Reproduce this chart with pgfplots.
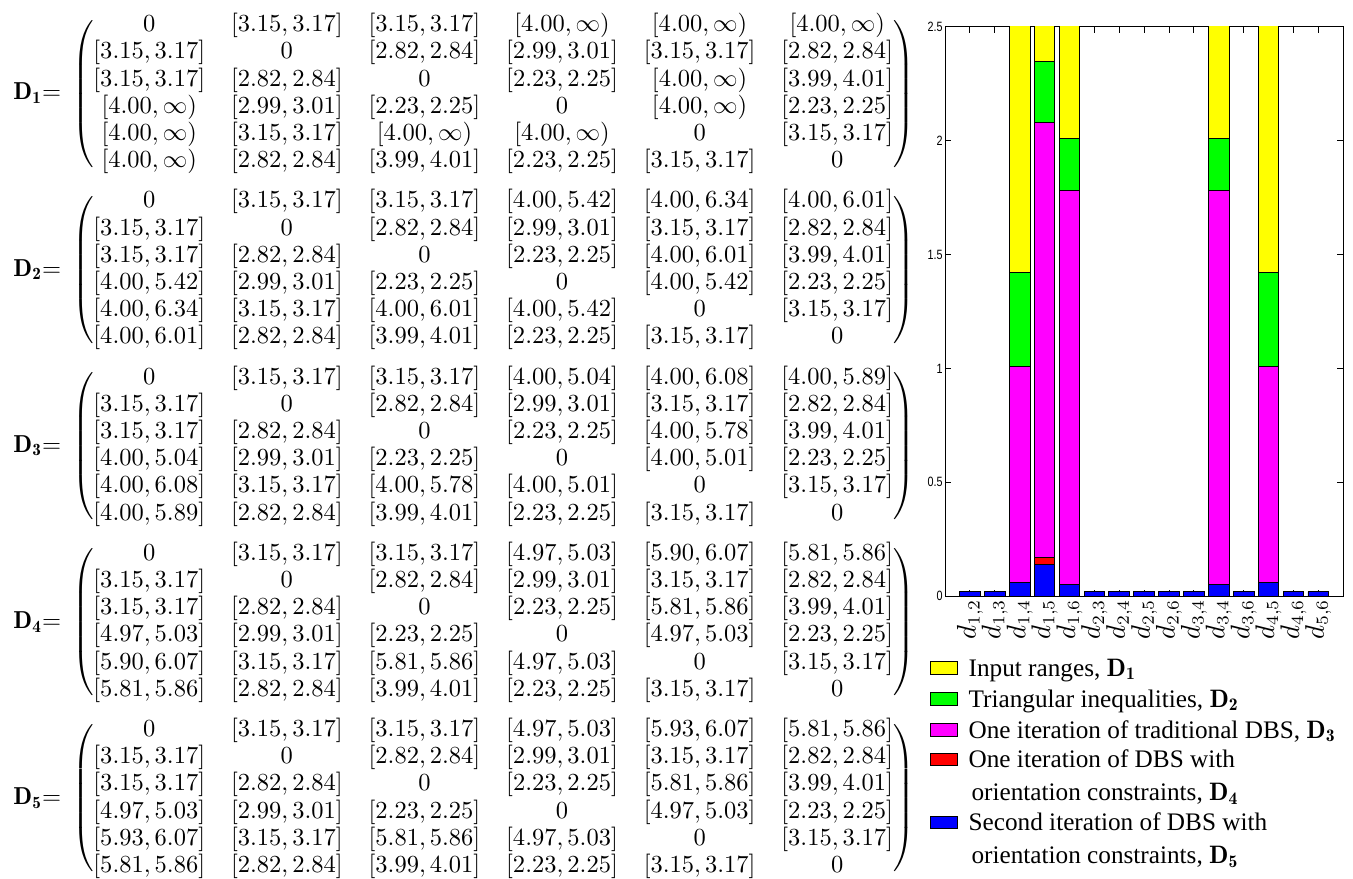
\documentclass[border=0pt]{standalone}
\usepackage{amsmath}
\usepackage{graphicx}
\usepackage{fontspec}
\usepackage{pgfplots}
\pgfplotsset{compat=1.18}
\newfontfamily\legfont{Liberation Serif}
\newfontfamily\tickfont{Liberation Sans}
\definecolor{cyel}{rgb}{1,1,0}
\definecolor{cgrn}{rgb}{0,1,0}
\definecolor{cmag}{rgb}{1,0,1}
\definecolor{cred}{rgb}{1,0,0}
\definecolor{cblu}{rgb}{0,0,1}
\delimiterfactor=850
\delimitershortfall=10pt
\newcommand\iv[2]{[#1,#2]}
\newcommand\Dmat[7]{$\setlength\arraycolsep{5.3pt}\mathbf{D_{#1}}{=}\;\begin{pmatrix}#2\\[-0.9pt]#3\\[-0.9pt]#4\\[-0.9pt]#5\\[-0.9pt]#6\\[-0.9pt]#7\end{pmatrix}$}
\newcommand\RowB{\iv{3.15}{3.17} & 0 & \iv{2.82}{2.84} & \iv{2.99}{3.01} & \iv{3.15}{3.17} & \iv{2.82}{2.84}}
\newcommand\two[2]{\vtop{\baselineskip=13.6pt\hbox{#1}\hbox{\kern1.2pt #2}}}
\begin{document}
\begin{tikzpicture}
\path[use as bounding box] (0,0) rectangle (552.2pt,-358.4pt);
% matrices
\node[anchor=west,inner sep=0pt] at (5.3pt,-38.3pt) {\Dmat{1}
{0 & \iv{3.15}{3.17} & \iv{3.15}{3.17} & [4.00,\infty) & [4.00,\infty) & [4.00,\infty)}
{\RowB}
{\iv{3.15}{3.17} & \iv{2.82}{2.84} & 0 & \iv{2.23}{2.25} & [4.00,\infty) & \iv{3.99}{4.01}}
{[4.00,\infty) & \iv{2.99}{3.01} & \iv{2.23}{2.25} & 0 & [4.00,\infty) & \iv{2.23}{2.25}}
{[4.00,\infty) & \iv{3.15}{3.17} & [4.00,\infty) & [4.00,\infty) & 0 & \iv{3.15}{3.17}}
{[4.00,\infty) & \iv{2.82}{2.84} & \iv{3.99}{4.01} & \iv{2.23}{2.25} & \iv{3.15}{3.17} & 0}};
\node[anchor=west,inner sep=0pt] at (5.3pt,-110.2pt) {\Dmat{2}
{0 & \iv{3.15}{3.17} & \iv{3.15}{3.17} & \iv{4.00}{5.42} & \iv{4.00}{6.34} & \iv{4.00}{6.01}}
{\RowB}
{\iv{3.15}{3.17} & \iv{2.82}{2.84} & 0 & \iv{2.23}{2.25} & \iv{4.00}{6.01} & \iv{3.99}{4.01}}
{\iv{4.00}{5.42} & \iv{2.99}{3.01} & \iv{2.23}{2.25} & 0 & \iv{4.00}{5.42} & \iv{2.23}{2.25}}
{\iv{4.00}{6.34} & \iv{3.15}{3.17} & \iv{4.00}{6.01} & \iv{4.00}{5.42} & 0 & \iv{3.15}{3.17}}
{\iv{4.00}{6.01} & \iv{2.82}{2.84} & \iv{3.99}{4.01} & \iv{2.23}{2.25} & \iv{3.15}{3.17} & 0}};
\node[anchor=west,inner sep=0pt] at (5.3pt,-182.1pt) {\Dmat{3}
{0 & \iv{3.15}{3.17} & \iv{3.15}{3.17} & \iv{4.00}{5.04} & \iv{4.00}{6.08} & \iv{4.00}{5.89}}
{\RowB}
{\iv{3.15}{3.17} & \iv{2.82}{2.84} & 0 & \iv{2.23}{2.25} & \iv{4.00}{5.78} & \iv{3.99}{4.01}}
{\iv{4.00}{5.04} & \iv{2.99}{3.01} & \iv{2.23}{2.25} & 0 & \iv{4.00}{5.01} & \iv{2.23}{2.25}}
{\iv{4.00}{6.08} & \iv{3.15}{3.17} & \iv{4.00}{5.78} & \iv{4.00}{5.01} & 0 & \iv{3.15}{3.17}}
{\iv{4.00}{5.89} & \iv{2.82}{2.84} & \iv{3.99}{4.01} & \iv{2.23}{2.25} & \iv{3.15}{3.17} & 0}};
\node[anchor=west,inner sep=0pt] at (5.3pt,-254.0pt) {\Dmat{4}
{0 & \iv{3.15}{3.17} & \iv{3.15}{3.17} & \iv{4.97}{5.03} & \iv{5.90}{6.07} & \iv{5.81}{5.86}}
{\RowB}
{\iv{3.15}{3.17} & \iv{2.82}{2.84} & 0 & \iv{2.23}{2.25} & \iv{5.81}{5.86} & \iv{3.99}{4.01}}
{\iv{4.97}{5.03} & \iv{2.99}{3.01} & \iv{2.23}{2.25} & 0 & \iv{4.97}{5.03} & \iv{2.23}{2.25}}
{\iv{5.90}{6.07} & \iv{3.15}{3.17} & \iv{5.81}{5.86} & \iv{4.97}{5.03} & 0 & \iv{3.15}{3.17}}
{\iv{5.81}{5.86} & \iv{2.82}{2.84} & \iv{3.99}{4.01} & \iv{2.23}{2.25} & \iv{3.15}{3.17} & 0}};
\node[anchor=west,inner sep=0pt] at (5.3pt,-325.9pt) {\Dmat{5}
{0 & \iv{3.15}{3.17} & \iv{3.15}{3.17} & \iv{4.97}{5.03} & \iv{5.93}{6.07} & \iv{5.81}{5.86}}
{\RowB}
{\iv{3.15}{3.17} & \iv{2.82}{2.84} & 0 & \iv{2.23}{2.25} & \iv{5.81}{5.86} & \iv{3.99}{4.01}}
{\iv{4.97}{5.03} & \iv{2.99}{3.01} & \iv{2.23}{2.25} & 0 & \iv{4.97}{5.03} & \iv{2.23}{2.25}}
{\iv{5.93}{6.07} & \iv{3.15}{3.17} & \iv{5.81}{5.86} & \iv{4.97}{5.03} & 0 & \iv{3.15}{3.17}}
{\iv{5.81}{5.86} & \iv{2.82}{2.84} & \iv{3.99}{4.01} & \iv{2.23}{2.25} & \iv{3.15}{3.17} & 0}};
\begin{axis}[
  at={(385.7pt,-243.3pt)}, anchor=south west,
  scale only axis, width=162.5pt, height=232.3pt,
  ybar stacked, bar width=0.83,
  xmin=0, xmax=16, ymin=0, ymax=2.5,
  xtick={1,...,15},
  xticklabels={{$d_{1,2}$},{$d_{1,3}$},{$d_{1,4}$},{$d_{1,5}$},{$d_{1,6}$},{$d_{2,3}$},{$d_{2,4}$},{$d_{2,5}$},{$d_{2,6}$},{$d_{3,4}$},{$d_{3,4}$},{$d_{3,6}$},{$d_{4,5}$},{$d_{4,6}$},{$d_{5,6}$}},
  xticklabel style={rotate=90, anchor=east, inner sep=1pt, font=\fontsize{10.5}{11}\selectfont},
  ytick={0,0.5,1,1.5,2,2.5},
  yticklabel={\scalebox{0.8}[1]{\tickfont\fontsize{5.5}{6}\selectfont\pgfmathprintnumber[assume math mode=true]{\tick}}},
  yticklabel style={inner sep=0.8pt},
  major tick length=2.5pt,
  axis line style={line width=0.4pt},
  every tick/.style={black, line width=0.4pt},
  reverse legend,
  legend style={at={(-0.058,-0.094)}, anchor=north west, draw=none, fill=none,
    font=\legfont\fontsize{10.3}{12.4}\selectfont,
    cells={anchor=base west}, nodes={text depth={}, inner ysep=1.6pt}, row sep=0pt, column sep=2.5pt},
  every axis plot post/.append style={draw=black, line width=0.35pt,
    legend image code/.code={\draw[##1] (0pt,0.7pt) rectangle (11pt,5.9pt);}},
]
\addplot[fill=cblu] coordinates {(1,0.02) (2,0.02) (3,0.06) (4,0.14) (5,0.05) (6,0.02) (7,0.02) (8,0.02) (9,0.02) (10,0.02) (11,0.05) (12,0.02) (13,0.06) (14,0.02) (15,0.02)};
\addplot[fill=cred] coordinates {(1,0) (2,0) (3,0) (4,0.03) (5,0) (6,0) (7,0) (8,0) (9,0) (10,0) (11,0) (12,0) (13,0) (14,0) (15,0)};
\addplot[fill=cmag] coordinates {(1,0) (2,0) (3,0.95) (4,1.91) (5,1.73) (6,0) (7,0) (8,0) (9,0) (10,0) (11,1.73) (12,0) (13,0.95) (14,0) (15,0)};
\addplot[fill=cgrn] coordinates {(1,0) (2,0) (3,0.41) (4,0.27) (5,0.23) (6,0) (7,0) (8,0) (9,0) (10,0) (11,0.23) (12,0) (13,0.41) (14,0) (15,0)};
\addplot[fill=cyel] coordinates {(1,0) (2,0) (3,1.5) (4,1.5) (5,1.5) (6,0) (7,0) (8,0) (9,0) (10,0) (11,1.5) (12,0) (13,1.5) (14,0) (15,0)};
\addlegendentry{\two{Second iteration of DBS with}{orientation constraints, $\mathbf{D_5}$}}
\addlegendentry{\two{One iteration of DBS with}{orientation constraints, $\mathbf{D_4}$}}
\addlegendentry{One iteration of traditional DBS, $\mathbf{D_3}$}
\addlegendentry{Triangular inequalities, $\mathbf{D_2}$}
\addlegendentry{Input ranges, $\mathbf{D_1}$}
\end{axis}
\end{tikzpicture}
\end{document}
